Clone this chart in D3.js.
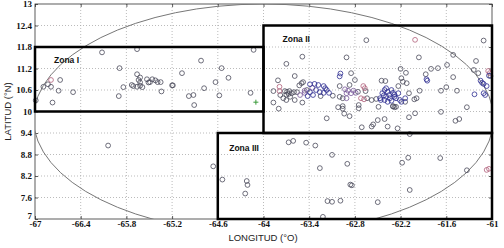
<!DOCTYPE html>
<html><head><meta charset="utf-8">
<script src="https://cdn.jsdelivr.net/npm/d3@7"></script>
<style>body{margin:0;background:#fff}svg{display:block}</style>
</head><body><svg id="c" width="504" height="248"></svg>
<script>
// ---- data ----
const xTicks = [-67,-66.4,-65.8,-65.2,-64.6,-64,-63.4,-62.8,-62.2,-61.6,-61];
const yTicks = [7,7.6,8.2,8.8,9.4,10,10.6,11.2,11.8,12.4,13];
const xLabel = "LONGITUD (°O)";
const yLabel = "LATITUD (°N)";
const zoneNames = ["Zona I","Zona II","Zona III"];
const zoneLon = [[-67,-64],[-64,-61],[-64.6,-61]];
const zoneLat = [[10,11.8],[9.4,12.4],[7,9.4]];
const zoneLabelPos = [[-66.75,11.35],[-63.75,11.95],[-64.45,8.9]];
const ellipseCenter = [-64,9.8];
const ellipseRadius = [3.02,3.2];

const grayPoints = [
 [-66.99,10.31],[-66.89,10.69],[-66.83,10.76],[-66.79,10.69],[-66.69,10.58],[-66.67,10.88],[-66.50,10.54],[-66.77,10.25],
 [-66.12,11.65],[-65.89,11.21],[-65.84,10.68],[-65.90,10.43],[-65.66,11.74],[-65.66,11.04],[-65.62,10.95],[-65.64,10.88],
 [-65.73,10.74],[-65.71,10.71],[-65.66,10.69],[-65.62,10.72],[-65.59,10.68],[-65.62,10.81],[-65.53,10.90],[-65.51,10.81],
 [-65.46,10.90],[-65.49,10.82],[-65.42,10.87],[-65.39,10.82],[-65.35,10.82],[-65.34,10.56],[-65.20,10.73],[-65.19,10.73],
 [-65.07,11.07],[-64.98,10.43],[-64.92,10.46],[-64.91,10.18],[-64.82,11.42],[-64.78,10.65],[-64.63,10.82],[-64.58,10.45],
 [-64.55,11.21],[-64.46,10.94],[-64.17,10.52],[-64.13,11.72],
 [-66.04,9.05],[-64.66,8.47],
 [-62.65,11.99],[-61.11,11.98],[-63.49,11.53],[-63.70,11.33],[-62.91,11.51],[-61.96,11.51],[-61.51,11.58],[-61.21,11.41],
 [-61.59,11.30],[-61.80,11.19],[-61.71,11.21],[-62.20,11.19],[-62.13,11.08],[-61.24,11.16],[-61.18,11.07],[-61.02,10.99],
 [-61.51,10.96],[-61.87,11.04],[-62.19,10.93],[-62.17,10.83],[-62.12,10.79],[-62.45,10.86],[-62.40,10.85],[-62.23,10.71],
 [-62.09,10.51],[-62.02,10.34],[-62.14,10.27],[-61.95,10.58],[-61.67,10.58],[-61.60,10.68],[-61.46,10.58],[-61.99,10.37],
 [-61.33,10.12],[-61.67,9.99],[-62.01,9.95],[-62.09,9.84],[-61.48,9.74],[-61.43,9.79],[-62.30,10.14],[-62.28,10.12],
 [-62.49,10.13],[-62.41,9.79],[-62.50,9.76],[-62.56,9.64],[-62.58,9.58],[-62.37,9.58],[-62.24,9.53],[-62.71,9.56],
 [-62.08,9.37],[-62.87,9.87],[-62.94,9.94],[-63.02,10.12],[-62.96,10.15],[-62.96,10.08],[-62.75,10.18],[-62.75,10.09],
 [-63.17,9.81],[-63.59,10.99],[-63.81,10.87],[-63.50,10.79],[-63.48,10.82],[-63.53,10.73],[-62.85,11.07],[-62.80,10.88],
 [-63.87,10.57],[-63.74,10.37],[-63.70,10.32],[-63.87,10.25],[-63.80,10.08],[-63.59,10.32],[-63.49,10.25],[-63.56,10.54],
 [-63.43,10.60],[-63.25,10.43],[-63.09,10.44],[-63.72,10.57],[-63.69,10.55],[-63.66,10.57],[-63.63,10.51],[-63.60,10.54],
 [-63.70,10.47],[-63.67,10.49],[-63.78,10.46],[-63.65,10.41],[-63.00,10.71],[-62.87,10.74],[-62.76,10.55],[-62.66,10.57],
 [-63.00,10.41],[-62.96,10.37],[-62.64,10.37],[-62.58,10.32],[-62.52,10.35],[-62.30,10.15],[-62.26,10.13],
 [-63.67,9.14],[-63.61,9.18],[-63.44,9.13],[-63.32,9.05],[-63.10,8.79],[-62.90,8.54],[-63.26,8.42],[-62.18,8.57],
 [-62.10,8.71],[-61.68,8.70],[-61.33,8.36],[-62.86,7.96],[-62.84,7.94],[-62.08,7.81],[-63.16,7.50],[-63.10,7.48],
 [-62.99,7.51],[-62.50,7.47],[-63.22,7.06],[-64.54,8.10],[-64.22,8.06],[-64.21,7.95],[-64.24,7.71]
];
const bluePoints = [
 [-63.39,10.76],[-63.33,10.77],[-63.28,10.74],[-63.21,10.71],[-63.19,10.65],[-62.99,11.06],[-63.00,10.98],
 [-62.39,10.65],[-62.44,10.51],[-62.41,10.60],[-62.37,10.55],[-62.32,10.60],[-62.30,10.52],[-62.28,10.41],[-62.26,10.37],
 [-62.21,10.32],[-62.23,10.51],[-62.39,10.41],[-62.34,10.37],[-62.46,10.32],[-62.47,10.37],[-62.41,10.32],[-62.32,10.30],
 [-62.37,10.27],[-62.19,10.27],[-62.14,10.37],[-62.35,10.46],[-62.28,10.47],[-62.42,10.45],
 [-61.15,10.86],[-61.13,10.80],[-61.11,10.77],[-61.07,10.71],[-61.23,10.48],[-61.11,10.51],[-61.09,10.46],[-61.04,11.00],
 [-61.86,10.90],[-61.85,10.86],
 [-63.39,10.54],[-63.35,10.46],[-63.31,10.60],[-63.26,10.54],[-63.21,10.52],[-63.17,10.60],[-63.14,10.52],[-63.42,10.43]
];
const purplePoints = [
 [-63.46,10.58],[-63.52,10.46],[-63.46,10.52],[-63.36,10.66],[-62.93,10.62],[-62.89,10.58],[-62.82,10.58],[-62.91,10.51],
 [-62.85,10.51],[-62.79,10.52],[-62.91,10.37]
];
const redPoints = [
 [-66.79,10.88],[-62.01,12.00],[-61.05,11.13],[-61.03,11.07],[-63.79,10.69],[-63.79,10.57],[-62.69,10.71],[-62.67,10.65],
 [-62.72,10.37],[-62.68,10.34],[-61.07,8.37],[-61.04,8.40]
];
const greenPoints = [[-64.10,10.26]];

// ---- layout ----
const L = 35, R = 492, T = 4, B = 219;
const svg = d3.select("#c");
const x = d3.scaleLinear().domain([-67,-61]).range([L,R]);
const y = d3.scaleLinear().domain([7,13]).range([B,T]);

svg.append("defs").append("clipPath").attr("id","clip")
  .append("rect").attr("x",L).attr("y",T).attr("width",R-L).attr("height",B-T);

// grid
const grid = svg.append("g");
grid.selectAll(".gx").data(xTicks.slice(1,-1)).join("line")
  .attr("x1",d=>x(d)).attr("x2",d=>x(d)).attr("y1",T).attr("y2",B)
  .attr("stroke","#aaa").attr("stroke-width",0.8).attr("stroke-dasharray","1,2");
grid.selectAll(".gy").data(yTicks.slice(1,-1)).join("line")
  .attr("y1",d=>y(d)).attr("y2",d=>y(d)).attr("x1",L).attr("x2",R)
  .attr("stroke","#aaa").attr("stroke-width",0.8).attr("stroke-dasharray","1,2");

// frame
svg.append("rect").attr("x",L).attr("y",T).attr("width",R-L).attr("height",B-T)
  .attr("fill","none").attr("stroke","#333").attr("stroke-width",0.8);

// axes (ticks inward)
const fontT = "bold 9px 'Liberation Serif', 'DejaVu Serif', serif";
const ax = svg.append("g").attr("transform",`translate(0,${B})`)
  .call(d3.axisBottom(x).tickValues(xTicks).tickFormat(d=>String(d)).tickSizeInner(-3).tickSizeOuter(0).tickPadding(2));
const ay = svg.append("g").attr("transform",`translate(${L},0)`)
  .call(d3.axisLeft(y).tickValues(yTicks).tickFormat(d=>String(d)).tickSizeInner(-3).tickSizeOuter(0).tickPadding(3));
const axTop = svg.append("g").attr("transform",`translate(0,${T})`)
  .call(d3.axisTop(x).tickValues(xTicks).tickFormat("").tickSizeInner(-3).tickSizeOuter(0));
const ayR = svg.append("g").attr("transform",`translate(${R},0)`)
  .call(d3.axisRight(y).tickValues(yTicks).tickFormat("").tickSizeInner(-3).tickSizeOuter(0));
[ax,ay,axTop,ayR].forEach(g=>{
  g.select(".domain").remove();
  g.selectAll("line").attr("stroke","#333").attr("stroke-width",0.8);
  g.selectAll("text").style("font",fontT).attr("fill","#111");
});
// lift the lowest latitude label so it clears the "-67" label below it
ay.selectAll(".tick text").filter(d=>d===yTicks[0]).attr("dy","-0.05em");

// ellipse
svg.append("ellipse").attr("clip-path","url(#clip)")
  .attr("cx",x(ellipseCenter[0])).attr("cy",y(ellipseCenter[1]))
  .attr("rx",x(ellipseCenter[0]+ellipseRadius[0])-x(ellipseCenter[0]))
  .attr("ry",y(ellipseCenter[1])-y(ellipseCenter[1]+ellipseRadius[1]))
  .attr("fill","none").attr("stroke","#777").attr("stroke-width",1);

// points
function pts(data,color){
  svg.append("g").selectAll("circle").data(data).join("circle")
    .attr("cx",d=>x(d[0])).attr("cy",d=>y(d[1])).attr("r",2.4)
    .attr("fill","none").attr("stroke",color).attr("stroke-width",0.8);
}
pts(grayPoints,"#4a4a5a");
pts(purplePoints,"#7a5a9a");
pts(redPoints,"#b0607a");
pts(bluePoints,"#2c2c90");
svg.append("g").selectAll("path").data(greenPoints).join("path")
  .attr("d",d=>`M${x(d[0])-2.5},${y(d[1])}h5M${x(d[0])},${y(d[1])-2.5}v5`)
  .attr("stroke","#3a9a3a").attr("stroke-width",1);

// zones
zoneNames.forEach((n,i)=>{
  const x0=x(zoneLon[i][0]), x1=x(zoneLon[i][1]), y0=y(zoneLat[i][1]), y1=y(zoneLat[i][0]);
  svg.append("rect").attr("x",x0).attr("y",y0).attr("width",x1-x0).attr("height",y1-y0)
    .attr("fill","none").attr("stroke","#000").attr("stroke-width",2.5);
  svg.append("text").attr("x",x(zoneLabelPos[i][0])).attr("y",y(zoneLabelPos[i][1]))
    .style("font","bold 8.5px 'Liberation Sans', Arial, sans-serif").attr("fill","#111").text(n);
});

// axis titles
svg.append("text").attr("x",263).attr("y",241).attr("text-anchor","middle")
  .style("font","9.5px 'Liberation Sans', Arial, sans-serif").attr("fill","#222").text(xLabel);
svg.append("text").attr("transform",`translate(11,${(T+B)/2}) rotate(-90)`).attr("text-anchor","middle")
  .style("font","9.5px 'Liberation Sans', Arial, sans-serif").attr("fill","#222").text(yLabel);
</script></body></html>
